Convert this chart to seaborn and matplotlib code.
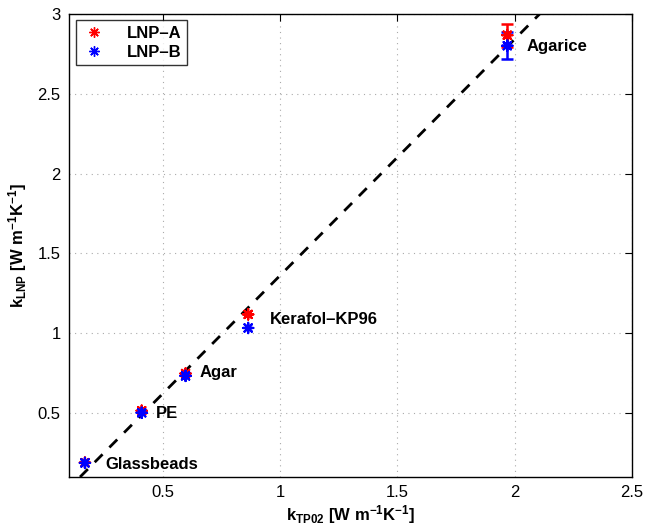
import matplotlib
matplotlib.use("Agg")
import matplotlib.pyplot as plt
import seaborn as sns
import pandas as pd
import numpy as np

# ---- data ----
materials = ["Glassbeads", "PE", "Agar", "Kerafol\u2013KP96", "Agarice"]
k_tp02 = [0.168, 0.41, 0.597, 0.864, 1.969]
k_lnp_a = [0.19, 0.515, 0.748, 1.118, 2.866]
k_lnp_b = [0.188, 0.502, 0.733, 1.033, 2.800]
err_a = [0.0, 0.0, 0.0, 0.0, 0.073]
err_b = [0.0, 0.0, 0.0, 0.0, 0.083]
series_names = ["LNP\u2013A", "LNP\u2013B"]
series_colors = ["#ff0000", "#0000ff"]
fit_x = [0.147, 2.108]
fit_y = [0.10, 3.00]
label_x = [0.253, 0.472, 0.655, 0.955, 2.053]
label_y = [0.181, 0.50, 0.752, 1.084, 2.794]
x_ticks = [0.5, 1.0, 1.5, 2.0, 2.5]
y_ticks = [0.5, 1.0, 1.5, 2.0, 2.5, 3.0]

sns.set_theme(style="white")
plt.rcParams["font.family"] = ["Liberation Sans", "DejaVu Sans"]
plt.rcParams["mathtext.fontset"] = "custom"
plt.rcParams["mathtext.rm"] = "Liberation Sans:bold"
plt.rcParams["mathtext.it"] = "Liberation Sans:bold"
plt.rcParams["mathtext.bf"] = "Liberation Sans:bold"
plt.rcParams["mathtext.default"] = "bf"
plt.rcParams["text.color"] = "black"
plt.rcParams["axes.labelcolor"] = "black"
plt.rcParams["xtick.color"] = "black"
plt.rcParams["ytick.color"] = "black"

fig = plt.figure(figsize=(6.48, 5.30), dpi=100)
ax = fig.add_axes([0.1065, 0.1, 0.8685, 0.874])

df = pd.DataFrame({
    "x": k_tp02 + k_tp02,
    "y": k_lnp_a + k_lnp_b,
    "series": [series_names[0]] * len(k_tp02) + [series_names[1]] * len(k_tp02),
})

# fit line
sns.lineplot(x=fit_x, y=fit_y, ax=ax, color="black", linestyle=(0, (4, 3.5)),
             linewidth=2, zorder=2)

# error bars (only nonzero)
for vals, errs, col in [(k_lnp_a, err_a, series_colors[0]), (k_lnp_b, err_b, series_colors[1])]:
    idx = [i for i, e in enumerate(errs) if e > 0]
    ax.errorbar([k_tp02[i] for i in idx], [vals[i] for i in idx],
                yerr=[errs[i] for i in idx], fmt="none", ecolor=col,
                elinewidth=1.8, capsize=4, capthick=1.8, zorder=3)

sns.scatterplot(data=df, x="x", y="y", hue="series", palette=series_colors,
                marker=(8, 2, 0), s=55, linewidth=1.6, ax=ax, zorder=4)

# annotations
for name, tx, ty in zip(materials, label_x, label_y):
    ax.text(tx, ty, name, fontsize=12, fontweight="bold", va="center", ha="left",
            color="black")

ax.set_xlim(0.1, 2.5)
ax.set_ylim(0.1, 3.0)
ax.set_xticks(x_ticks)
ax.set_xticklabels(["0.5", "1", "1.5", "2", "2.5"])
ax.set_yticks(y_ticks)
ax.set_yticklabels(["0.5", "1", "1.5", "2", "2.5", "3"])
ax.tick_params(direction="in", length=5, width=0.8, top=True, right=True,
               labelsize=12, colors="black", pad=6)
ax.grid(True, linestyle=(0, (1, 4)), color="#aaaaaa", linewidth=0.8)
for sp in ax.spines.values():
    sp.set_color("black")
    sp.set_linewidth(1.0)

ax.set_xlabel(r"k$_{\mathbf{TP02}}$ [W m$^{\mathbf{-1}}$K$^{\mathbf{-1}}$]",
              fontsize=12, fontweight="bold", labelpad=2, color="black")
ax.set_ylabel(r"k$_{\mathbf{LNP}}$ [W m$^{\mathbf{-1}}$K$^{\mathbf{-1}}$]",
              fontsize=12, fontweight="bold", labelpad=6, color="black")

handles, labels = ax.get_legend_handles_labels()
leg = ax.legend(handles[-2:], labels[-2:], loc="upper left",
                prop={"weight": "bold", "size": 12}, frameon=True, fancybox=False,
                edgecolor="black", borderaxespad=0.4, handletextpad=1.2,
                borderpad=0.35, labelspacing=0.2, handlelength=1.5)
leg.get_frame().set_linewidth(1.0)
for t in leg.get_texts():
    t.set_color("black")
for h in leg.legend_handles:
    try:
        h.set_linewidth(1.0)
        h.set_markeredgewidth(1.0)
    except Exception:
        pass

fig.savefig("out.png", dpi=100)
